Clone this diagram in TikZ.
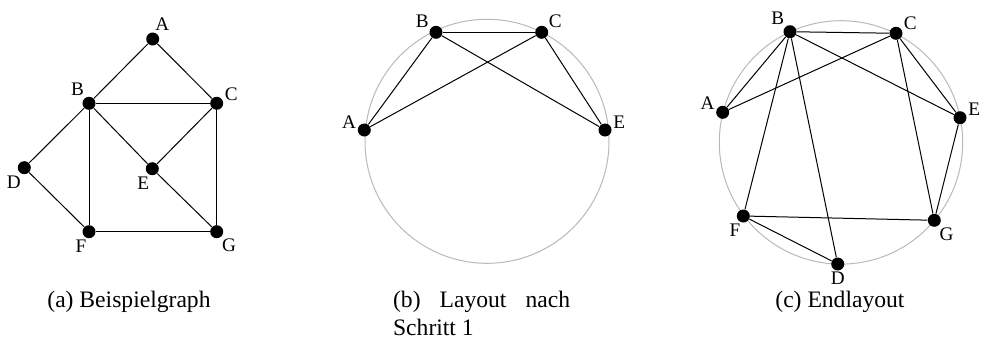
\documentclass[tikz,border=0pt]{standalone}
\usepackage{fontspec}
\setmainfont{Liberation Serif}
\definecolor{ringGray}{HTML}{B9B9B9}
\tikzset{
  vtx/.style={circle, fill=black, minimum size=6.5pt, inner sep=0pt},
  vlbl/.style={font=\fontsize{9.6}{11}\selectfont, inner sep=0.5pt},
  edge/.style={draw=black, line width=0.5pt},
  ring/.style={draw=ringGray, line width=0.5pt},
  capt/.style={font=\fontsize{11.8}{14}\selectfont, inner sep=0pt},
}

\begin{document}
\begin{tikzpicture}[x=0.5pt, y=-0.5pt]
  \useasboundingbox (0,0) rectangle (981,338);

  % (a) example graph
  \node[vtx, label={[vlbl]80:A}] (aA) at (152.7,39) {};
  \node[vtx, label={[vlbl]122:B}] (aB) at (89,103.3) {};
  \node[vtx, label={[vlbl]8:C}] (aC) at (216.7,103.3) {};
  \node[vtx, label={[vlbl]-108:D}] (aD) at (24.3,167.7) {};
  \node[vtx, label={[vlbl]-105:E}] (aE) at (152.3,168.7) {};
  \node[vtx, label={[vlbl]-100:F}] (aF) at (89,231.7) {};
  \node[vtx, label={[vlbl]-55:G}] (aG) at (216.7,231.7) {};
  \foreach \u/\v in {A/B, A/C, B/C, B/D, B/E, B/F, C/E, C/G, D/F, E/G, F/G}
    \draw[edge] (a\u) -- (a\v);
  \node[capt, anchor=base west] (capA) at (47,307) {(a) Beispielgraph};

  % (b) after step 1
  \coordinate (bM) at (487,141.3);
  \draw[ring] (bM) circle[radius=61pt];
  \node[vtx, label={[vlbl]175:A}] (bA) at (364.3,130) {};
  \node[vtx, label={[vlbl]148:B}] (bB) at (436,32.3) {};
  \node[vtx, label={[vlbl]32:C}] (bC) at (541.7,32.3) {};
  \node[vtx, label={[vlbl]5:E}] (bE) at (605,130) {};
  \foreach \u/\v in {A/B, A/C, B/C, B/E, C/E}
    \draw[edge] (b\u) -- (b\v);
  \node[capt, anchor=north west, text width=88.5pt, align=justify] (capB)
    at (392.7,291) {(b) Layout nach Schritt 1};

  % (c) final layout
  \coordinate (cM) at (841,142.4);
  \draw[ring] (cM) circle[radius=60.85pt];
  \node[vtx, label={[vlbl]170:A}] (cA) at (722.7,112.3) {};
  \node[vtx, label={[vlbl]130:B}] (cB) at (790,31.7) {};
  \node[vtx, label={[vlbl]22:C}] (cC) at (896,33.3) {};
  \node[vtx, label={[vlbl]-90:D}] (cD) at (837.7,264) {};
  \node[vtx, label={[vlbl]5:E}] (cE) at (960,117.7) {};
  \node[vtx, label={[vlbl]-103:F}] (cF) at (743.3,216) {};
  \node[vtx, label={[vlbl]-55:G}] (cG) at (934.3,220.3) {};
  \foreach \u/\v in {A/B, A/C, B/C, B/D, B/E, B/F, C/E, C/G, D/F, E/G, F/G}
    \draw[edge] (c\u) -- (c\v);
  \node[capt, anchor=base west] (capC) at (775,307) {(c) Endlayout};
\end{tikzpicture}
\end{document}
